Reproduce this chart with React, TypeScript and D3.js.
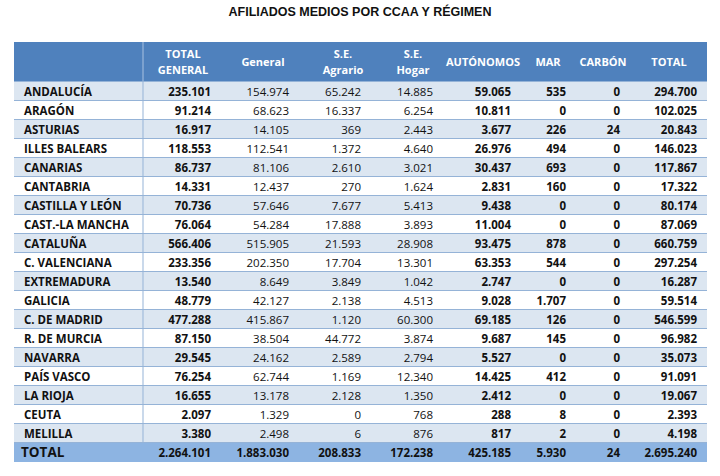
import React from "react";
import * as d3 from "d3";

const title = "AFILIADOS MEDIOS POR CCAA Y RÉGIMEN";
const headers: string[][] = [
  ["TOTAL", "GENERAL"],
  ["General"],
  ["S.E.", "Agrario"],
  ["S.E.", "Hogar"],
  ["AUTÓNOMOS"],
  ["MAR"],
  ["CARBÓN"],
  ["TOTAL"],
];
const regions = [
  "ANDALUCÍA", "ARAGÓN", "ASTURIAS", "ILLES BALEARS", "CANARIAS", "CANTABRIA",
  "CASTILLA Y LEÓN", "CAST.-LA MANCHA", "CATALUÑA", "C. VALENCIANA", "EXTREMADURA",
  "GALICIA", "C. DE MADRID", "R. DE MURCIA", "NAVARRA", "PAÍS VASCO", "LA RIOJA",
  "CEUTA", "MELILLA", "TOTAL",
];
const totalGeneral = [235101, 91214, 16917, 118553, 86737, 14331, 70736, 76064, 566406, 233356, 13540, 48779, 477288, 87150, 29545, 76254, 16655, 2097, 3380, 2264101];
const general = [154974, 68623, 14105, 112541, 81106, 12437, 57646, 54284, 515905, 202350, 8649, 42127, 415867, 38504, 24162, 62744, 13178, 1329, 2498, 1883030];
const agrario = [65242, 16337, 369, 1372, 2610, 270, 7677, 17888, 21593, 17704, 3849, 2138, 1120, 44772, 2589, 1169, 2128, 0, 6, 208833];
const hogar = [14885, 6254, 2443, 4640, 3021, 1624, 5413, 3893, 28908, 13301, 1042, 4513, 60300, 3874, 2794, 12340, 1350, 768, 876, 172238];
const autonomos = [59065, 10811, 3677, 26976, 30437, 2831, 9438, 11004, 93475, 63353, 2747, 9028, 69185, 9687, 5527, 14425, 2412, 288, 817, 425185];
const mar = [535, 0, 226, 494, 693, 160, 0, 0, 878, 544, 0, 1707, 126, 145, 0, 412, 0, 8, 2, 5930];
const carbon = [0, 0, 24, 0, 0, 0, 0, 0, 0, 0, 0, 0, 0, 0, 0, 0, 0, 0, 0, 24];
const total = [294700, 102025, 20843, 146023, 117867, 17322, 80174, 87069, 660759, 297254, 16287, 59514, 546599, 96982, 35073, 91091, 19067, 2393, 4198, 2695240];

const series = [totalGeneral, general, agrario, hogar, autonomos, mar, carbon, total];
const boldCols = [true, false, false, false, true, true, true, true];

// layout
const W = 720, H = 476;
const left = 14, right = 707, headTop = 42, headBottom = 82, bodyBottom = 462;
const labelColRight = 143;
const colRight = [211, 289, 361, 433, 511, 566, 620, 697];
const colCenter = [183, 263, 343, 413, 483, 548, 603, 669];

const esLocale = d3.formatLocale({ decimal: ",", thousands: ".", grouping: [3], currency: ["", "€"] });
const fmt = esLocale.format(",d");

const FONT = "'Open Sans', sans-serif";

export default function App() {
  const y = d3.scaleBand<number>().domain(d3.range(regions.length)).range([headBottom, bodyBottom]);
  const bw = y.bandwidth();
  const rowFill = (i: number) => (i === regions.length - 1 ? "#8db4e2" : i % 2 === 0 ? "#dce6f1" : "#ffffff");
  return (
    <svg width={W} height={H} style={{ position: "absolute", left: 0, top: 0, background: "#fff" }}>
      <rect x={0} y={0} width={W} height={H} fill="#fff" />
      <text x={360} y={16} textAnchor="middle" fontFamily="'Liberation Sans Narrow', 'Arial Narrow', sans-serif" fontWeight="bold" fontSize={12.5} fill="#111">
        {title}
      </text>
      {/* header */}
      <rect x={left} y={headTop} width={right - left} height={headBottom - headTop} fill="#4f81bd" />
      <line x1={labelColRight} x2={labelColRight} y1={headTop} y2={headBottom} stroke="#a9c1e0" strokeWidth={1} />
      {headers.map((h, j) =>
        h.map((t, k) => (
          <text
            key={`h${j}-${k}`}
            x={colCenter[j]}
            y={(headTop + headBottom) / 2 + 4 + (h.length === 2 ? (k === 0 ? -8 : 8) : 0)}
            textAnchor="middle"
            fontFamily={FONT}
            fontWeight="bold"
            fontSize={11}
            fill="#fff"
          >
            {t}
          </text>
        ))
      )}
      {/* rows */}
      {regions.map((r, i) => {
        const y0 = y(i)!;
        const isTotal = i === regions.length - 1;
        return (
          <g key={r}>
            <rect x={left} y={y0} width={right - left} height={bw} fill={rowFill(i)} />
            {!isTotal && <line x1={left} x2={right} y1={y0 + bw - 0.5} y2={y0 + bw - 0.5} stroke="#95b3d7" strokeWidth={1} />}
            <text
              x={isTotal ? 21 : 24}
              y={y0 + bw / 2 + 4.5}
              fontFamily={FONT}
              fontWeight="bold"
              fontSize={isTotal ? 13.5 : 11.5}
              fill="#111"
            >
              {r}
            </text>
            {series.map((s, j) => (
              <text
                key={j}
                x={colRight[j]}
                y={y0 + bw / 2 + 4.5}
                textAnchor="end"
                fontFamily={FONT}
                fontWeight={boldCols[j] || isTotal ? "bold" : "normal"}
                fontSize={11.5}
                fill="#111"
              >
                {fmt(s[i])}
              </text>
            ))}
          </g>
        );
      })}
      <line x1={labelColRight} x2={labelColRight} y1={headBottom} y2={y(regions.length - 1)!} stroke="#95b3d7" strokeWidth={1} />
      <line x1={left} x2={right} y1={headBottom - 0.5} y2={headBottom - 0.5} stroke="#95b3d7" strokeWidth={1} />
    </svg>
  );
}
